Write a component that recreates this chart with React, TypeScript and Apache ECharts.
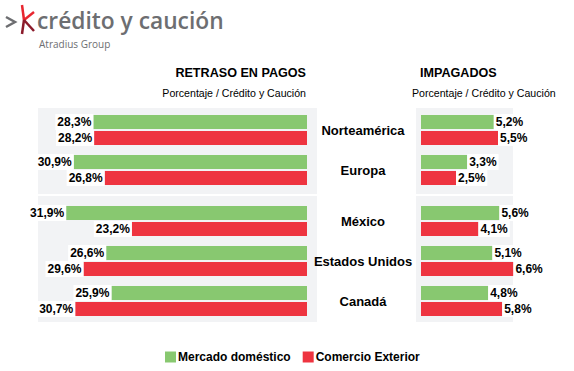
import React, { useEffect, useRef } from "react";
import * as echarts from "echarts";

const categories = ["Norteamérica", "Europa", "México", "Estados Unidos", "Canadá"];
const retrasoDomestico = [28.3, 30.9, 31.9, 26.6, 25.9];
const retrasoExterior = [28.2, 26.8, 23.2, 29.6, 30.7];
const impagadosDomestico = [5.2, 3.3, 5.6, 5.1, 4.8];
const impagadosExterior = [5.5, 2.5, 4.1, 6.6, 5.8];
const seriesNames = ["Mercado doméstico", "Comercio Exterior"];

const GREEN = "#88c870";
const RED = "#ee3440";
const FONT = "'Liberation Sans', Arial, sans-serif";

const fmt = (p: any) => p.value.toFixed(1).replace(".", ",") + "%";

export default function App() {
  const ref = useRef<HTMLDivElement>(null);
  useEffect(() => {
    if (!ref.current) return;
    const chart = echarts.init(ref.current, null, { renderer: "svg" });
    const splitTop = 2;
    const groups = [
      { cats: categories.slice(0, splitTop), from: 0, to: splitTop },
      { cats: categories.slice(splitTop), from: splitTop, to: categories.length },
    ];
    const grids = [
      { left: 5, width: 302, top: 110, height: 80 },
      { left: 5, width: 302, top: 201, height: 120 },
      { left: 421, width: 140, top: 110, height: 80 },
      { left: 421, width: 140, top: 201, height: 120 },
    ];
    const labelBase = {
      show: true,
      fontFamily: FONT,
      fontWeight: "bold",
      fontSize: 12,
      color: "#000",
      backgroundColor: "#fff",
      padding: [2, 2],
      distance: 0,
      formatter: fmt,
    };
    const xAxis = grids.map((g, i) => ({
      type: "value",
      gridIndex: i,
      min: 0,
      max: i < 2 ? 40 : 10,
      inverse: i < 2,
      show: false,
    }));
    const yAxis = grids.map((g, i) => {
      const grp = groups[i % 2];
      const isRight = i >= 2;
      return {
        type: "category",
        gridIndex: i,
        inverse: true,
        data: grp.cats,
        axisLine: { show: false },
        axisTick: { show: false },
        splitLine: { show: false },
        axisLabel: {
          show: isRight,
          align: "center",
          margin: 58,
          fontFamily: FONT,
          fontWeight: "bold",
          fontSize: 13,
          color: "#000",
        },
      };
    });
    const series: any[] = [];
    grids.forEach((g, i) => {
      const grp = groups[i % 2];
      const isRight = i >= 2;
      const dom = (isRight ? impagadosDomestico : retrasoDomestico).slice(grp.from, grp.to);
      const ext = (isRight ? impagadosExterior : retrasoExterior).slice(grp.from, grp.to);
      [dom, ext].forEach((d, k) => {
        series.push({
          type: "bar",
          name: seriesNames[k],
          xAxisIndex: i,
          yAxisIndex: i,
          data: d,
          barWidth: 14,
          barGap: "14%",
          itemStyle: { color: k === 0 ? GREEN : RED },
          label: { ...labelBase, position: isRight ? "right" : "left" },
        });
      });
    });
    const gray = "#f2f3f5";
    const option: any = {
      animation: false,
      backgroundColor: "#fff",
      grid: grids,
      xAxis,
      yAxis,
      series,
      legend: {
        data: seriesNames,
        left: 160,
        top: 346,
        icon: "rect",
        itemWidth: 11,
        itemHeight: 11,
        itemGap: 12,
        textStyle: {
          fontFamily: FONT,
          fontWeight: "bold",
          fontSize: 12,
          color: "#000",
          padding: [0, 0, 0, -3],
        },
      },
      graphic: [
        { type: "rect", z: 0, shape: { x: 38, y: 108, width: 279, height: 86 }, style: { fill: gray } },
        { type: "rect", z: 0, shape: { x: 38, y: 196, width: 279, height: 126 }, style: { fill: gray } },
        { type: "rect", z: 0, shape: { x: 416, y: 108, width: 97, height: 86 }, style: { fill: gray } },
        { type: "rect", z: 0, shape: { x: 416, y: 196, width: 97, height: 126 }, style: { fill: gray } },
        {
          type: "text",
          x: 306,
          y: 73,
          style: { text: "RETRASO EN PAGOS", fontFamily: FONT, fontWeight: "bold", fontSize: 12.6, fill: "#000", align: "right", verticalAlign: "middle" },
        },
        {
          type: "text",
          x: 306,
          y: 93,
          style: { text: "Porcentaje / Crédito y Caución", fontFamily: FONT, fontSize: 10.6, fill: "#000", align: "right", verticalAlign: "middle" },
        },
        {
          type: "text",
          x: 420,
          y: 73,
          style: { text: "IMPAGADOS", fontFamily: FONT, fontWeight: "bold", fontSize: 12.6, fill: "#000", align: "left", verticalAlign: "middle" },
        },
        {
          type: "text",
          x: 412,
          y: 93,
          style: { text: "Porcentaje / Crédito y Caución", fontFamily: FONT, fontSize: 10.6, fill: "#000", align: "left", verticalAlign: "middle" },
        },
        // logo
        { type: "polyline", shape: { points: [[6, 17], [15, 22], [6, 27]] }, style: { stroke: "#6d6e71", lineWidth: 2.5, fill: null } },
        { type: "line", shape: { x1: 22, y1: 5, x2: 24, y2: 20 }, style: { stroke: "#e8262f", lineWidth: 2.5 } },
        { type: "line", shape: { x1: 24, y1: 20, x2: 34, y2: 12 }, style: { stroke: "#e8262f", lineWidth: 2.5 } },
        { type: "line", shape: { x1: 24, y1: 20, x2: 22, y2: 34 }, style: { stroke: "#8b1a2a", lineWidth: 2.5 } },
        { type: "line", shape: { x1: 24, y1: 20, x2: 34, y2: 31 }, style: { stroke: "#8b1a2a", lineWidth: 2.5 } },
        {
          type: "text",
          x: 37,
          y: 20,
          scaleX: 0.99,
          style: { text: "crédito y caución", fontFamily: "'Open Sans', sans-serif", fontWeight: 600, fontSize: 23, fill: "#6d6e71", align: "left", verticalAlign: "middle" },
        },
        {
          type: "text",
          x: 39,
          y: 44,
          style: { text: "Atradius Group", fontFamily: "'Open Sans', sans-serif", fontSize: 10, fill: "#6d6e71", align: "left", verticalAlign: "middle" },
        },
      ],
    };
    chart.setOption(option);
    return () => chart.dispose();
  }, []);
  return <div ref={ref} style={{ position: "fixed", left: 0, top: 0, width: 574, height: 371 }} />;
}
